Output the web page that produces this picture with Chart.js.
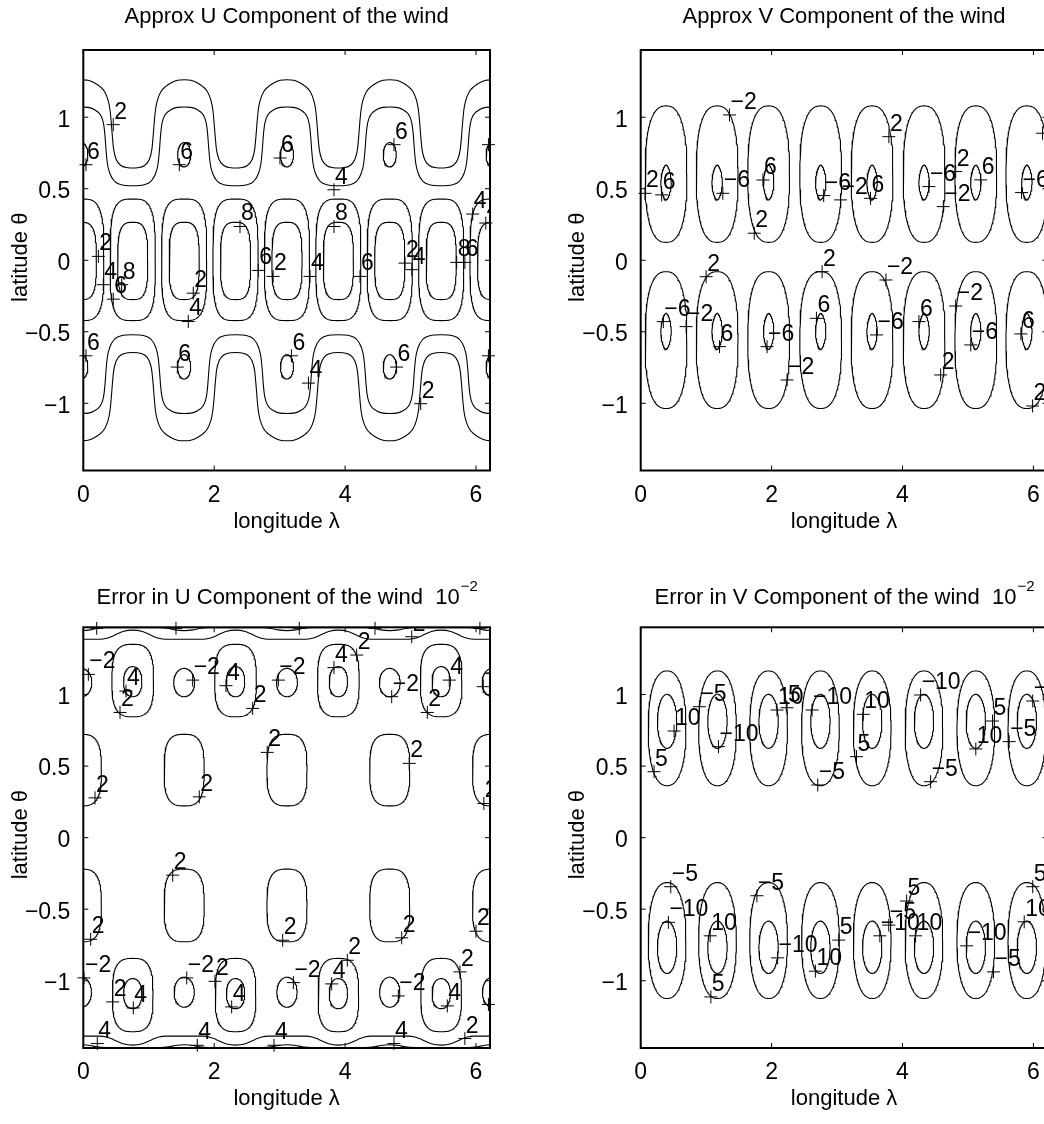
<!DOCTYPE html>
<html>
<head>
  <title>Wind component contours</title>
  <script src="https://cdn.jsdelivr.net/npm/chart.js"></script>
  <style>
    body {
      margin: 0;
      background-color: #fff;
      width: 1044px;
      height: 1124px;
      overflow: hidden;
      position: relative;
    }
    canvas {
      position: absolute;
    }
  </style>
</head>
<body>
  <canvas id="uApprox" width="520" height="560" style="left:0px;top:0px"></canvas>
  <canvas id="vApprox" width="520" height="560" style="left:557px;top:0px"></canvas>
  <canvas id="uError" width="520" height="547" style="left:0px;top:577px"></canvas>
  <canvas id="vError" width="520" height="547" style="left:557px;top:577px"></canvas>

  <script>
    const FONT = '"Liberation Sans", Arial, Helvetica, sans-serif';

    // axes
    const lonMax = 6.214;
    const latLim = 1.47;
    const xTicks = [0, 2, 4, 6];
    const yTicks = [-1, -0.5, 0, 0.5, 1];

    // ---- Approx U: contour levels 2..8 ----
    // wavy contours, crest-to-trough half period (north; south is the mirror)
    const uCrestLon = [-0.03, 1.541, 3.112, 4.682, 6.253];
    const uWave2Dx = [0, 0.102, 0.204, 0.28, 0.356, 0.407, 0.438, 0.458, 0.474, 0.494, 0.535, 0.611, 0.713, 0.785];
    const uWave2Lat = [1.262, 1.258, 1.239, 1.216, 1.178, 1.122, 1.052, 0.959, 0.866, 0.773, 0.703, 0.661, 0.647, 0.645];
    const uWave4Dx = [0, 0.102, 0.204, 0.28, 0.321, 0.346, 0.362, 0.377, 0.397, 0.433, 0.509, 0.611, 0.785];
    const uWave4Lat = [1.071, 1.069, 1.052, 1.024, 0.987, 0.936, 0.866, 0.773, 0.68, 0.61, 0.551, 0.528, 0.521];
    // equatorial cells: [lat, half-width, half-height]
    const uCellLon = [-0.03, 0.755, 1.541, 2.326, 3.112, 3.897, 4.682, 5.468, 6.253];
    const uCellOuter = [0.003, 0.345, 0.425];
    const uCellInner = [-0.005, 0.23, 0.27];
    // small level-6 cells under the crests
    const uCrestCells = [[0.738, 0.1, 0.085], [-0.745, 0.1, 0.085]];
    const uLabLon = [0.458, 0.041, 1.467, 3.005, 4.747, 3.83, 2.394, 3.83, 6.19, 5.95, 6.15,
      0.23, 0.306, 0.586, 0.458, 1.68, 1.604, 2.674, 2.90, 3.464, 4.228, 4.915, 5.02, 5.705,
      5.83, 0.041, 1.437, 3.18, 4.787, 3.44, 5.155, 6.19];
    const uLabLat = [0.948, 0.668, 0.668, 0.715, 0.808, 0.493, 0.236, 0.236, 0.808, 0.323, 0.26,
      0.027, -0.171, -0.171, -0.272, -0.23, -0.428, -0.071, -0.113, -0.113, -0.113, -0.02, -0.066,
      -0.015, -0.015, -0.668, -0.747, -0.668, -0.747, -0.859, -1.003, -0.668];
    const uLabText = ['2', '6', '6', '6', '6', '4', '8', '8', '6', '4', '4', '2', '4', '8', '6', '2',
      '4', '6', '2', '4', '6', '2', '4', '8', '6', '6', '6', '6', '6', '4', '2', '6'];

    // ---- Approx V: levels ±2, ±6 ----
    const vCellLon = [0.387, 1.168, 1.955, 2.75, 3.535, 4.33, 5.12, 5.9];
    const vOuter = [[0.602, 0.319, 0.477], [-0.558, 0.319, 0.478]];
    const vInner = [[0.544, 0.08, 0.122], [-0.497, 0.08, 0.126]];
    const vLabLon = [1.357, 0.066, 0.321, 1.255, 1.868, 1.735, 2.796, 3.052, 3.512, 3.792, 4.404,
      4.813, 4.623, 5.196, 5.819, 6.14, 1.0, 0.346, 0.694, 1.204, 1.93, 2.236, 2.772, 2.685, 3.747,
      3.603, 4.251, 4.583, 4.813, 5.043, 5.809, 5.988];
    const vLabLat = [1.016, 0.468, 0.457, 0.468, 0.561, 0.189, 0.452, 0.422, 0.433, 0.864, 0.515,
      0.62, 0.375, 0.562, 0.473, 0.888, -0.115, -0.429, -0.464, -0.604, -0.604, -0.837, -0.08,
      -0.406, -0.138, -0.522, -0.429, -0.802, -0.32, -0.592, -0.515, -1.019];
    const vLabText = ['−2', '2', '6', '−6', '6', '2', '−6', '−2', '6', '2', '−6', '2', '−2', '6',
      '−6', '−2', '2', '−6', '−2', '6', '−6', '−2', '2', '6', '−2', '−6', '6', '2', '−2', '−6', '6', '2'];

    // ---- Error in U (x 10^-2): levels ±2, 4 ----
    const ueBigLon = [0.755, 2.326, 3.897, 5.468];
    const ueSmallLon = [-0.03, 1.541, 3.112, 4.682, 6.253];
    const ueBigOuter = [[1.098, 0.318, 0.253], [-1.10, 0.31, 0.256]];
    const ueBigInner = [[1.09, 0.14, 0.105], [-1.09, 0.14, 0.105]];
    const ueSmallCells = [[1.084, 0.16, 0.099], [-1.08, 0.155, 0.105]];
    const ueMidCells = [[0.472, 0.306, 0.25], [-0.474, 0.306, 0.254]];
    // contours along the poles, half period from the bulge
    const ueEdgeLon = [-0.815, 0.755, 2.326, 3.897, 5.468, 7.039];
    const ueEdge2Dx = [0, 0.15, 0.3, 0.4, 0.5, 0.785];
    const ueEdge2Lat = [1.45, 1.44, 1.41, 1.393, 1.387, 1.387];
    const ueEdge4Dx = [0, 0.4, 0.55, 0.65, 0.785];
    const ueEdge4Lat = [1.468, 1.467, 1.462, 1.452, 1.447];
    const ueLabLon = [0.077, 0.561, 0.652, 1.671, 2.18, 2.588, 2.98, 3.83, 4.177, 4.712, 5.592,
      5.256, 6.11, 0.179, 1.772, 2.81, 4.98, 6.12, 1.366, 0.113, 3.046, 4.865, 6.0, 0.01, 1.58,
      2.012, 0.449, 0.764, 2.267, 3.21, 3.795, 4.034, 4.813, 5.755, 5.562, 6.19, 0.214, 1.742,
      2.914, 4.747, 5.83, 0.205, 1.416, 3.3, 4.457, 6.06, 5.018];
    const ueLabLat = [1.141, 0.875, 1.024, 1.101, 1.062, 0.903, 1.101, 1.188, 1.276, 0.985, 1.101,
      0.875, 1.055, 0.278, 0.285, 0.596, 0.519, 0.239, -0.262, -0.71, -0.717, -0.70, -0.654, -0.98,
      -0.98, -1.004, -1.148, -1.19, -1.183, -1.013, -1.022, -0.857, -1.106, -0.938, -1.176, -1.166,
      -1.439, -1.451, -1.451, -1.439, -1.404, 1.463, 1.463, 1.463, 1.463, 1.463, 1.404];
    const ueLabText = ['−2', '2', '4', '−2', '4', '2', '−2', '4', '2', '−2', '4', '2', '−2', '2',
      '2', '2', '2', '2', '2', '2', '2', '2', '2', '−2', '−2', '2', '2', '4', '4', '−2', '4', '2',
      '−2', '2', '4', '4', '4', '4', '4', '4', '2', '4', '4', '4', '4', '4', '2'];

    // ---- Error in V (x 10^-2): levels ±5, ±10 ----
    const veCellLon = [0.403, 1.173, 1.954, 2.746, 3.537, 4.328, 5.12, 5.9];
    const veOuter = [[0.764, 0.288, 0.401], [-0.719, 0.288, 0.405]];
    const veInner = [[0.813, 0.148, 0.189], [-0.766, 0.148, 0.183]];
    const veLabLon = [0.204, 0.51, 0.897, 1.188, 2.082, 2.236, 2.619, 3.40, 3.297, 2.705, 4.277,
      4.43, 5.12, 5.375, 5.63, 5.99, 0.459, 0.423, 1.061, 1.072, 1.776, 2.092, 2.669, 3.026, 3.654,
      4.2, 4.063, 3.79, 4.98, 5.39, 5.86, 5.99];
    const veLabLat = [0.461, 0.745, 0.915, 0.636, 0.892, 0.908, 0.892, 0.862, 0.566, 0.368, 0.997,
      0.391, 0.62, 0.815, 0.671, 0.955, -0.343, -0.592, -0.686, -1.113, -0.406, -0.84, -0.933,
      -0.716, -0.686, -0.686, -0.443, -0.611, -0.756, -0.938, -0.588, -0.343];
    const veLabText = ['5', '10', '−5', '−10', '10', '5', '−10', '10', '5', '−5', '−10', '−5', '10',
      '5', '−5', '−10', '−5', '−10', '10', '5', '−5', '−10', '10', '5', '−10', '10', '5', '−5',
      '−10', '−5', '10', '5'];

    // closed contour around a cell; p > 2 squares the sides off
    function cell(lon, c, p) {
      const [lat, rx, ry] = c;
      const pts = [];
      const n = 120;
      for (let i = 0; i <= n; i++) {
        const t = 2 * Math.PI * i / n;
        const cs = Math.cos(t), sn = Math.sin(t);
        pts.push({
          x: lon + rx * Math.sign(cs) * Math.pow(Math.abs(cs), 2 / p),
          y: lat + ry * Math.sign(sn) * Math.pow(Math.abs(sn), 2 / p)
        });
      }
      return pts;
    }

    // open contour repeating crest -> trough -> crest along longitude
    function wave(crests, dx, lat, sign) {
      const pts = [];
      for (let i = 0; i < crests.length - 1; i++) {
        const c = crests[i], next = crests[i + 1];
        dx.forEach((d, j) => pts.push({ x: c + d, y: sign * lat[j] }));
        for (let j = dx.length - 2; j > 0; j--) pts.push({ x: next - dx[j], y: sign * lat[j] });
      }
      pts.push({ x: crests[crests.length - 1], y: sign * lat[0] });
      return pts;
    }

    const contour = (pts, smooth) => ({
      data: pts,
      showLine: true,
      borderColor: '#000',
      backgroundColor: '#000',
      borderWidth: 1.1,
      pointRadius: 0,
      tension: 0,
      cubicInterpolationMode: smooth ? 'monotone' : 'default'
    });

    const markers = (lon, lat) => ({
      data: lon.map((x, i) => ({ x, y: lat[i] })),
      showLine: false,
      pointStyle: 'cross',
      pointRadius: 6.5,
      borderColor: '#000',
      borderWidth: 1,
      clip: false
    });

    const tickLabel = v => (v < 0 ? '−' + Math.abs(v) : String(v));

    // box, inward ticks, titles and contour label text
    const matlabAxes = {
      id: 'matlabAxes',
      afterDatasetsDraw(chart, args, o) {
        const { ctx, chartArea: a, scales: { x, y } } = chart;
        ctx.save();
        ctx.beginPath();
        ctx.rect(a.left, a.top, a.right - a.left, a.bottom - a.top);
        ctx.clip();
        ctx.fillStyle = '#000';
        ctx.font = '23px ' + FONT;
        ctx.textAlign = 'left';
        ctx.textBaseline = 'alphabetic';
        o.labText.forEach((t, i) => {
          ctx.fillText(t, x.getPixelForValue(o.labLon[i]) + 1, y.getPixelForValue(o.labLat[i]) - 6);
        });
        ctx.restore();
      },
      afterDraw(chart, args, o) {
        const { ctx, chartArea: a, scales: { x, y } } = chart;
        ctx.save();
        ctx.strokeStyle = '#000';
        ctx.lineWidth = 1;
        ctx.beginPath();
        xTicks.forEach(v => {
          const px = x.getPixelForValue(v);
          ctx.moveTo(px, a.bottom); ctx.lineTo(px, a.bottom - 5);
          ctx.moveTo(px, a.top); ctx.lineTo(px, a.top + 5);
        });
        yTicks.forEach(v => {
          const py = y.getPixelForValue(v);
          ctx.moveTo(a.left, py); ctx.lineTo(a.left + 5, py);
          ctx.moveTo(a.right, py); ctx.lineTo(a.right - 5, py);
        });
        ctx.stroke();
        ctx.lineWidth = 2;
        ctx.strokeRect(a.left, a.top, a.right - a.left, a.bottom - a.top);

        ctx.fillStyle = '#000';
        const cx = (a.left + a.right) / 2;
        // title, with optional power-of-ten superscript
        ctx.font = '22px ' + FONT;
        ctx.textBaseline = 'alphabetic';
        ctx.textAlign = 'left';
        const w1 = ctx.measureText(o.title).width;
        let w2 = 0;
        if (o.sup) {
          ctx.font = '15px ' + FONT;
          w2 = ctx.measureText(o.sup).width;
          ctx.font = '22px ' + FONT;
        }
        const tx = cx - (w1 + w2) / 2;
        const ty = a.top - o.titleGap;
        ctx.fillText(o.title, tx, ty);
        if (o.sup) {
          ctx.font = '15px ' + FONT;
          ctx.fillText(o.sup, tx + w1 + 1, ty - 13);
          ctx.font = '22px ' + FONT;
        }
        // axis titles
        ctx.textAlign = 'center';
        ctx.fillText('longitude λ', cx, a.bottom + 57);
        ctx.translate(a.left - 56.6, (a.top + a.bottom) / 2 - 3);
        ctx.rotate(-Math.PI / 2);
        ctx.fillText('latitude θ', 0, 0);
        ctx.restore();
      }
    };

    function makePanel(id, box, lines, lab, opts) {
      const canvas = document.getElementById(id);
      const cw = canvas.width, ch = canvas.height;
      const datasets = lines.slice();
      datasets.push(markers(lab.lon, lab.lat));
      return new Chart(canvas, {
        type: 'scatter',
        data: { datasets },
        options: {
          responsive: false,
          animation: false,
          events: [],
          layout: { padding: { top: box.top, right: cw - box.right, bottom: 0, left: 0 } },
          plugins: {
            legend: { display: false },
            tooltip: { enabled: false },
            matlabAxes: {
              title: opts.title,
              sup: opts.sup,
              titleGap: opts.titleGap,
              labLon: lab.lon,
              labLat: lab.lat,
              labText: lab.text
            }
          },
          scales: {
            x: {
              type: 'linear',
              min: 0,
              max: lonMax,
              grid: { display: false },
              border: { display: false },
              afterBuildTicks: s => { s.ticks = xTicks.map(v => ({ value: v })); },
              afterFit: s => { s.height = ch - box.bottom; },
              ticks: { color: '#000', padding: 3, maxRotation: 0, autoSkip: false,
                       font: { family: FONT, size: 23 }, callback: tickLabel }
            },
            y: {
              type: 'linear',
              min: -latLim,
              max: latLim,
              grid: { display: false },
              border: { display: false },
              afterBuildTicks: s => { s.ticks = yTicks.map(v => ({ value: v })); },
              afterFit: s => { s.width = box.left; },
              ticks: { color: '#000', padding: 5, labelOffset: 3, autoSkip: false,
                       font: { family: FONT, size: 23 }, callback: tickLabel }
            }
          }
        },
        plugins: [matlabAxes]
      });
    }

    // ---- build the four panels ----
    const uLines = [];
    [1, -1].forEach(s => {
      uLines.push(contour(wave(uCrestLon, uWave2Dx, uWave2Lat, s), true));
      uLines.push(contour(wave(uCrestLon, uWave4Dx, uWave4Lat, s), true));
    });
    uCellLon.forEach(lon => {
      uLines.push(contour(cell(lon, uCellOuter, 3.5)));
      uLines.push(contour(cell(lon, uCellInner, 3.2)));
    });
    uCrestLon.forEach(lon => uCrestCells.forEach(c => uLines.push(contour(cell(lon, c, 2)))));

    const vLines = [];
    vCellLon.forEach(lon => {
      vOuter.forEach(c => vLines.push(contour(cell(lon, c, 2.5))));
      vInner.forEach(c => vLines.push(contour(cell(lon, c, 1.7))));
    });

    const ueLines = [];
    [1, -1].forEach(s => {
      ueLines.push(contour(wave(ueEdgeLon, ueEdge2Dx, ueEdge2Lat, s), true));
      ueLines.push(contour(wave(ueEdgeLon, ueEdge4Dx, ueEdge4Lat, s), true));
    });
    ueBigLon.forEach(lon => {
      ueBigOuter.forEach(c => ueLines.push(contour(cell(lon, c, 3))));
      ueBigInner.forEach(c => ueLines.push(contour(cell(lon, c, 2.2))));
    });
    ueSmallLon.forEach(lon => {
      ueSmallCells.forEach(c => ueLines.push(contour(cell(lon, c, 2))));
      ueMidCells.forEach(c => ueLines.push(contour(cell(lon, c, 3))));
    });

    const veLines = [];
    veCellLon.forEach(lon => {
      veOuter.forEach(c => veLines.push(contour(cell(lon, c, 2.3))));
      veInner.forEach(c => veLines.push(contour(cell(lon, c, 2))));
    });

    makePanel('uApprox', { left: 83.3, top: 50, right: 490, bottom: 470.5 }, uLines,
      { lon: uLabLon, lat: uLabLat, text: uLabText },
      { title: 'Approx U Component of the wind', titleGap: 26.7 });
    makePanel('vApprox', { left: 83.7, top: 50, right: 490.4, bottom: 470.5 }, vLines,
      { lon: vLabLon, lat: vLabLat, text: vLabText },
      { title: 'Approx V Component of the wind', titleGap: 26.7 });
    makePanel('uError', { left: 83.3, top: 50.3, right: 490, bottom: 471 }, ueLines,
      { lon: ueLabLon, lat: ueLabLat, text: ueLabText },
      { title: 'Error in U Component of the wind  10', sup: '−2', titleGap: 23.5 });
    makePanel('vError', { left: 83.7, top: 50.3, right: 490.4, bottom: 471 }, veLines,
      { lon: veLabLon, lat: veLabLat, text: veLabText },
      { title: 'Error in V Component of the wind  10', sup: '−2', titleGap: 23.5 });
  </script>
</body>
</html>
